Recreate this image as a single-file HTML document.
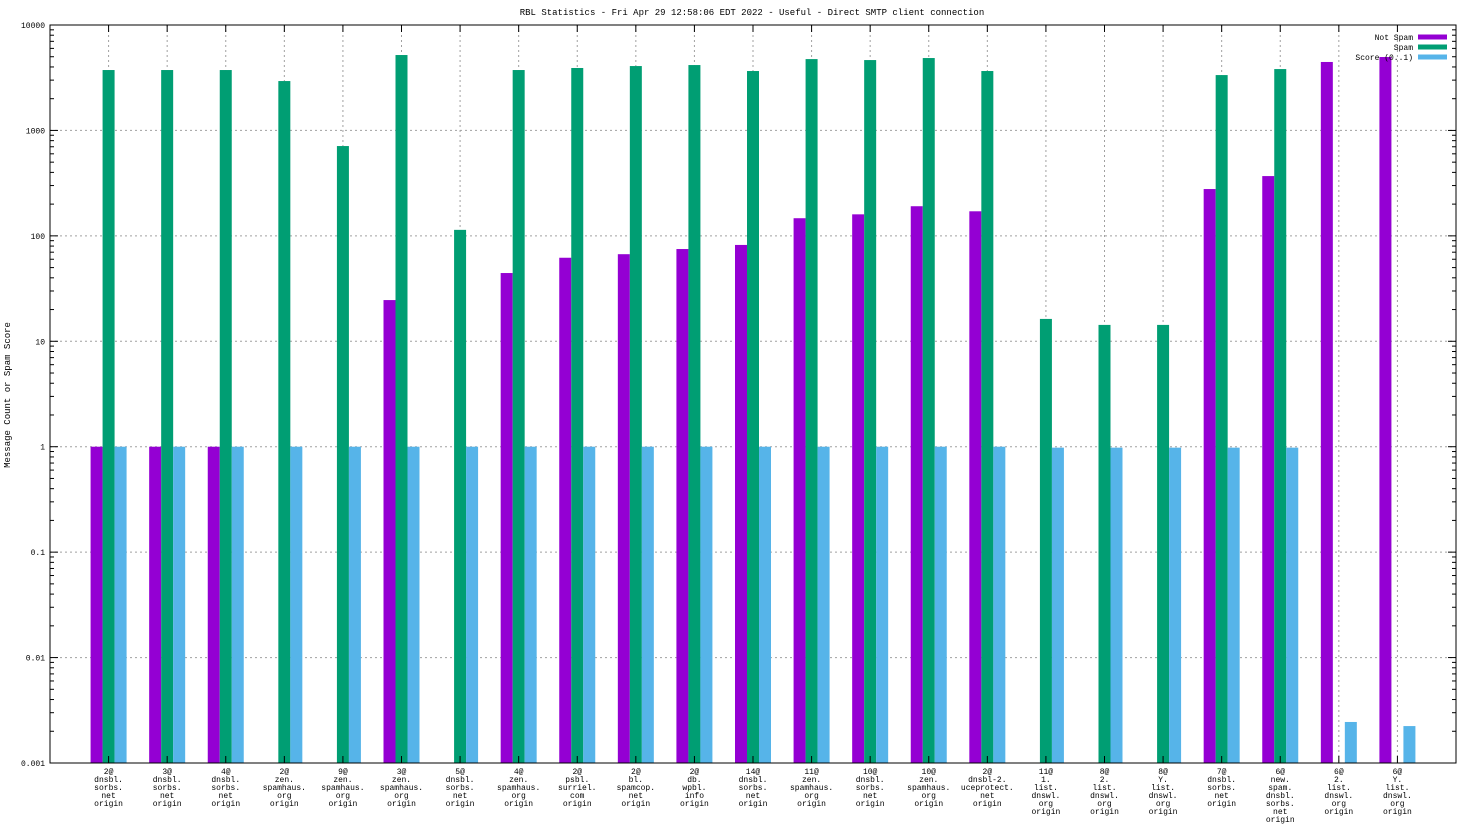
<!DOCTYPE html>
<html><head><meta charset="utf-8"><style>
html,body{margin:0;padding:0;background:#fff;}
svg{display:block;font-family:"Liberation Mono","DejaVu Sans Mono",monospace;}
</style></head><body>
<svg id="chart" width="1472" height="828" viewBox="0 0 1472 828" xmlns="http://www.w3.org/2000/svg">
<text x="752" y="15" font-size="9" text-anchor="middle">RBL Statistics - Fri Apr 29 12:58:06 EDT 2022 - Useful - Direct SMTP client connection</text>
<text x="10" y="395" font-size="9" text-anchor="middle" transform="rotate(-90 10 395)">Message Count or Spam Score</text>
<g id="grid"></g>
<g id="bars"></g>
<g id="axes"></g>
<g id="legend"></g>
</svg>
<script>
const categories = [
"2@|dnsbl.|sorbs.|net|origin","3@|dnsbl.|sorbs.|net|origin","4@|dnsbl.|sorbs.|net|origin",
"2@|zen.|spamhaus.|org|origin","9@|zen.|spamhaus.|org|origin","3@|zen.|spamhaus.|org|origin",
"5@|dnsbl.|sorbs.|net|origin","4@|zen.|spamhaus.|org|origin","2@|psbl.|surriel.|com|origin",
"2@|bl.|spamcop.|net|origin","2@|db.|wpbl.|info|origin","14@|dnsbl.|sorbs.|net|origin",
"11@|zen.|spamhaus.|org|origin","10@|dnsbl.|sorbs.|net|origin","10@|zen.|spamhaus.|org|origin",
"2@|dnsbl-2.|uceprotect.|net|origin","11@|1.|list.|dnswl.|org|origin","8@|2.|list.|dnswl.|org|origin",
"8@|Y.|list.|dnswl.|org|origin","7@|dnsbl.|sorbs.|net|origin","6@|new.|spam.|dnsbl.|sorbs.|net|origin",
"6@|2.|list.|dnswl.|org|origin","6@|Y.|list.|dnswl.|org|origin"];
const notSpam = [1,1,1,null,null,24.6,null,44.4,62,67,75,82,147,160,191,171,null,null,null,278,369,4460,4970];
const spam = [3740,3740,3740,2940,711,5190,114,3740,3910,4080,4170,3660,4750,4650,4860,3660,16.3,14.3,14.3,3350,3820,null,null];
const score = [1,1,1,1,1,1,1,1,1,1,1,1,1,1,1,1,0.98,0.98,0.98,0.98,0.98,0.00245,0.00224];
const yTickLabels = ["0.001","0.01","0.1","1","10","100","1000","10000"];
const yTickValues = [0.001,0.01,0.1,1,10,100,1000,10000];

const NS="http://www.w3.org/2000/svg";
const L=50,R=1456,T=25,B=763;
const yMin=-3,yMax=4;
function y(v){return B-(Math.log10(v)-yMin)/(yMax-yMin)*(B-T);}
const slot=(R-L)/(categories.length+1);
function x(i){return L+(i+1)*slot;}
function mk(tag,attrs,parent){const e=document.createElementNS(NS,tag);for(const k in attrs)e.setAttribute(k,attrs[k]);parent.appendChild(e);return e;}
const grid=document.getElementById('grid'),bars=document.getElementById('bars'),axes=document.getElementById('axes'),legend=document.getElementById('legend');

yTickValues.forEach((v,k)=>{
  const yy=y(v);
  if(k>0&&k<yTickValues.length-1){const g=mk('line',{x1:L,x2:R,y1:yy,y2:yy,stroke:'#a0a0a0','stroke-dasharray':'2,3','stroke-width':1},grid);
  
  }
  const t=mk('text',{x:L-5,y:yy+3,'font-size':8,'text-anchor':'end'},axes);t.textContent=yTickLabels[k];
  
  
  mk('line',{x1:L,x2:L+8,y1:yy,y2:yy,stroke:'#000'},axes);
  mk('line',{x1:R-8,x2:R,y1:yy,y2:yy,stroke:'#000'},axes);
  if(k<yTickValues.length-1){for(let m=2;m<10;m++){const my=y(v*m);
    mk('line',{x1:L,x2:L+4,y1:my,y2:my,stroke:'#000'},axes);
    mk('line',{x1:R-4,x2:R,y1:my,y2:my,stroke:'#000'},axes);}}
});

const series=[[notSpam,'#9400d3',-1,'not-spam'],[spam,'#009e73',0,'spam'],[score,'#56b4e9',1,'score']];
const bw=12;
categories.forEach((c,i)=>{
  const cx=x(i);
  const g=mk('line',{x1:cx,x2:cx,y1:T,y2:B,stroke:'#a0a0a0','stroke-dasharray':'2,3'},grid);
  
  
  mk('line',{x1:cx,x2:cx,y1:B-7,y2:B,stroke:'#000'},axes);
  mk('line',{x1:cx,x2:cx,y1:T,y2:T+7,stroke:'#000'},axes);
  const lines=c.split('|');
  lines.forEach((ln,j)=>{const t=mk('text',{x:cx,y:774+j*8,'font-size':8,'text-anchor':'middle'},axes);t.textContent=ln;
    
    });
  series.forEach(s=>{const v=s[0][i];if(v==null)return;
    const top=y(v);const r=mk('rect',{x:cx+s[2]*bw-bw/2,y:top,width:bw,height:B-top,fill:s[1]},bars);
    
    });
});
const fr=mk('rect',{x:L,y:T,width:R-L,height:B-T,fill:'none',stroke:'#000','stroke-width':1},axes);



const names=['Not Spam','Spam','Score (0..1)'];
series.forEach((s,k)=>{
  const ly=37+k*10;
  const t=mk('text',{x:1413,y:ly+3,'font-size':8,'text-anchor':'end'},legend);t.textContent=names[k];
  
  
  const r=mk('rect',{x:1418,y:ly-2.5,width:29,height:5,fill:s[1]},legend);
  
  
});
</script>
</body></html>
